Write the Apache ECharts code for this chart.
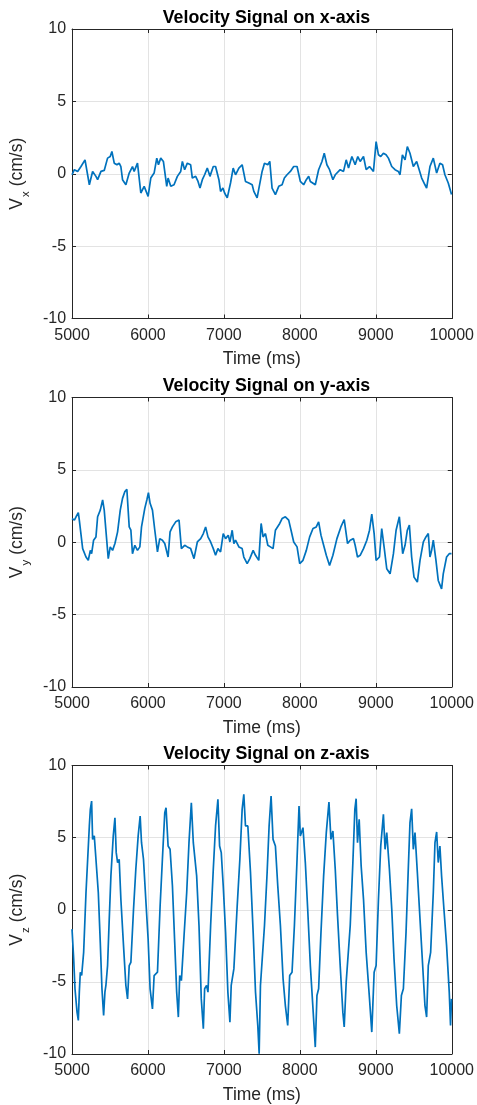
<!DOCTYPE html>
<html>
<head>
<meta charset="utf-8">
<script src="https://cdn.jsdelivr.net/npm/echarts@6/dist/echarts.min.js"></script>
<style>
html,body{margin:0;padding:0;background:#fff;}
#chart{width:477px;height:1105px;}
</style>
</head>
<body>
<div id="chart"></div>
<script>
// ---- data ----
var titles = ['Velocity Signal on x-axis', 'Velocity Signal on y-axis', 'Velocity Signal on z-axis'];
var axisSubs = ['x', 'y', 'z'];
var xLabel = 'Time (ms)';
var xTicks = [5000, 6000, 7000, 8000, 9000, 10000];
var yTicks = [-10, -5, 0, 5, 10];

var tX = [5000,5031,5074,5118,5140,5171,5197,5228,5271,5315,5337,5381,5424,5446,5468,5503,5525,5556,5591,5621,5643,5665,5709,5753,5796,5818,5862,5884,5906,5950,6002,6037,6081,6116,6138,6168,6203,6247,6265,6300,6343,6387,6431,6453,6483,6518,6562,6584,6628,6659,6685,6716,6746,6781,6816,6860,6890,6934,6956,6987,7009,7044,7087,7122,7153,7197,7240,7284,7328,7372,7394,7437,7459,7503,7534,7578,7604,7634,7678,7722,7766,7796,7831,7875,7919,7963,8006,8050,8085,8116,8138,8203,8247,8291,8321,8356,8391,8435,8466,8531,8575,8610,8641,8685,8728,8763,8794,8838,8873,8917,8969,9004,9035,9065,9100,9135,9166,9210,9253,9297,9319,9350,9385,9415,9450,9494,9538,9560,9604,9647,9669,9713,9757,9801,9844,9879,9910,9954,9997];
var vX = [-0.07,0.28,0.16,0.50,0.62,0.96,0.85,-0.76,0.16,-0.18,-0.41,0.16,0.23,0.28,1.08,1.19,1.54,0.73,0.62,0.73,0.50,-0.41,-0.76,0.05,0.50,0.16,0.73,0.62,-1.33,-0.87,-1.56,-0.30,0.05,1.08,0.62,1.08,0.85,-0.87,-0.30,-0.87,-0.76,-0.18,0.16,0.85,0.28,0.73,0.62,-0.30,-0.18,-0.53,-0.99,-0.41,-0.07,0.39,-0.18,0.50,0.50,-0.41,-1.22,-0.99,-1.33,-1.67,-0.64,0.39,-0.07,0.39,0.62,-0.53,-0.64,-0.76,-1.22,-1.67,-1.56,0.16,0.73,0.62,0.85,-0.99,-1.44,-0.87,-0.76,-0.30,-0.07,0.16,0.50,0.50,-0.53,-0.76,-0.41,-0.18,-0.53,-0.76,0.28,0.85,1.42,0.62,0.28,-0.41,-0.07,0.28,0.16,0.96,0.39,1.19,0.62,1.19,0.85,1.19,0.28,0.50,0.16,2.22,1.31,1.19,1.42,1.31,1.08,0.50,0.28,0.16,-0.07,1.31,0.96,1.88,1.42,0.50,0.85,0.73,-0.30,-0.76,-0.99,0.50,1.08,0.05,0.73,0.62,-0.07,-0.64,-1.44];

var tY = [5000,5031,5053,5083,5096,5118,5140,5162,5184,5214,5241,5258,5284,5315,5337,5372,5403,5424,5446,5477,5503,5534,5565,5600,5635,5665,5696,5722,5753,5775,5796,5827,5862,5893,5915,5941,5958,5985,6006,6028,6059,6090,6125,6155,6190,6221,6265,6291,6322,6365,6409,6440,6483,6518,6562,6606,6650,6694,6729,6759,6790,6825,6860,6890,6921,6956,6991,7022,7057,7079,7109,7131,7153,7197,7240,7262,7306,7341,7385,7416,7459,7490,7516,7547,7578,7612,7647,7678,7700,7735,7766,7809,7853,7884,7919,7963,7998,8041,8085,8129,8173,8216,8247,8278,8313,8348,8391,8435,8488,8540,8584,8628,8663,8706,8728,8759,8794,8838,8882,8917,8947,8978,9004,9048,9078,9109,9144,9188,9232,9267,9310,9354,9385,9415,9442,9472,9503,9547,9582,9626,9660,9691,9713,9735,9757,9792,9822,9866,9888,9932,9967,9997];
var vY = [1.64,1.53,1.76,2.04,1.53,1.41,-0.44,-0.32,-1.02,-1.25,-0.56,-0.79,0.14,0.37,1.76,2.22,2.92,2.22,0.83,-1.13,-0.32,-0.56,-0.09,0.72,2.22,3.03,3.50,3.66,1.06,0.83,-0.79,-0.21,-0.56,-0.32,1.06,1.06,2.34,2.92,3.43,2.69,2.22,0.83,-0.67,0.25,0.14,-0.09,-1.02,0.72,1.06,1.41,1.53,-0.44,-0.21,-0.32,-0.44,-1.13,0.02,0.25,0.60,1.06,0.37,0.02,-0.44,-0.90,-0.44,-0.67,0.60,0.25,0.49,0.02,0.83,-0.09,0.14,-0.32,-0.44,-1.02,-1.48,-1.13,-0.56,-0.90,-1.25,1.30,0.37,0.60,-0.21,-0.32,-0.44,0.83,0.72,1.30,1.64,1.76,1.53,0.83,0.02,-0.32,-1.48,-1.25,-0.56,0.37,0.95,1.06,1.41,0.49,-0.21,-0.90,-1.60,-0.90,0.25,1.06,1.57,-0.09,0.14,0.25,-0.21,-1.02,-0.90,-0.44,0.14,0.83,1.94,0.60,-1.25,-1.02,0.95,-0.32,-1.83,-2.18,-0.79,0.83,1.76,-0.79,-0.21,0.83,1.18,-1.02,-2.41,-2.75,-1.25,0.02,0.37,0.60,-1.02,-0.56,0.14,-1.25,-2.64,-3.22,-2.18,-1.02,-0.79,-0.79];

var tZ = [5000,5022,5039,5066,5083,5096,5109,5127,5153,5184,5206,5228,5241,5258,5271,5293,5315,5346,5372,5394,5416,5433,5446,5468,5490,5512,5543,5565,5582,5600,5621,5643,5678,5709,5731,5753,5775,5810,5840,5871,5897,5915,5941,5971,6002,6028,6059,6081,6125,6160,6190,6221,6238,6265,6291,6322,6352,6378,6400,6418,6440,6475,6510,6540,6571,6597,6615,6641,6672,6702,6729,6746,6772,6790,6825,6860,6890,6921,6943,6965,6991,7022,7052,7079,7096,7131,7175,7210,7240,7262,7284,7315,7350,7385,7416,7446,7464,7481,7503,7534,7569,7595,7621,7647,7678,7709,7744,7779,7809,7840,7866,7897,7928,7963,7989,8006,8041,8072,8103,8138,8173,8203,8225,8247,8278,8313,8348,8383,8409,8435,8466,8496,8531,8566,8584,8610,8628,8663,8698,8724,8741,8759,8781,8807,8838,8873,8917,8947,8978,9004,9035,9065,9100,9122,9144,9179,9210,9240,9275,9310,9337,9363,9398,9429,9450,9472,9494,9516,9547,9582,9617,9647,9669,9691,9722,9757,9779,9801,9822,9844,9866,9897,9932,9967,9984,9997];
var vZ = [-1.34,-3.41,-5.48,-7.10,-7.67,-5.71,-4.33,-4.56,-2.95,1.20,3.50,5.81,6.96,7.53,4.88,5.12,3.50,1.20,-2.26,-5.48,-7.33,-5.71,-5.25,-3.87,-0.65,2.35,5.12,6.38,3.96,3.27,3.50,0.74,-2.49,-5.25,-6.18,-3.87,-3.64,0.05,2.81,5.12,6.50,4.65,3.50,0.74,-2.03,-5.48,-6.87,-4.56,-4.33,0.28,3.50,6.73,7.07,4.42,4.19,1.66,-2.26,-5.71,-7.44,-4.56,-4.91,-1.80,1.20,4.65,7.42,4.65,4.77,2.35,-1.11,-6.18,-8.25,-5.48,-5.25,-5.71,-1.11,2.81,5.81,7.65,4.42,3.96,1.66,-1.57,-5.71,-7.79,-5.25,-4.10,0.28,3.50,6.96,8.00,5.81,5.81,2.58,-1.57,-5.71,-8.02,-9.98,-5.25,-5.25,-1.11,2.58,5.81,7.88,4.88,4.42,1.66,-1.11,-4.79,-6.64,-8.02,-4.56,-4.33,-1.11,3.50,7.19,5.12,5.69,3.27,0.05,-3.87,-6.87,-9.52,-5.94,-5.48,-1.57,2.35,5.35,7.47,4.88,5.46,2.81,-0.41,-3.87,-7.10,-8.13,-5.02,-5.02,-1.11,3.27,6.96,7.70,4.65,6.27,3.04,0.74,-2.95,-6.18,-8.48,-4.33,-3.87,0.74,4.42,6.61,4.19,5.35,2.81,0.05,-3.41,-6.64,-8.59,-5.94,-5.48,-1.57,3.04,6.04,7.00,4.19,5.35,2.58,-0.65,-3.87,-6.64,-7.44,-3.87,-2.95,1.20,4.65,5.39,3.27,4.42,2.35,0.05,-2.49,-5.71,-8.02,-6.18];

// ---- chart ----
var FONT = "'Liberation Sans', Arial, Helvetica, sans-serif";
var TXT = '#262626';
var LINE = '#0072BD';
var gridTops = [29, 397.5, 765.5];
var GL = 71, GW = 381, GH = 289.5;

function pairs(t, v) { return t.map(function (x, i) { return [x, v[i]]; }); }
var seriesData = [pairs(tX, vX), pairs(tY, vY), pairs(tZ, vZ)];
function plain(v) { return String(v); }

var grid = [], xAxis = [], yAxis = [], series = [], title = [];
for (var k = 0; k < 3; k++) {
  grid.push({ left: GL, top: gridTops[k], width: GW, height: GH, containLabel: false });
  title.push({
    text: titles[k], left: GL + GW / 2, top: gridTops[k] - 25, textAlign: 'center',
    textStyle: { fontFamily: FONT, fontSize: 17.8, fontWeight: 'bold', color: '#000' }
  });
  var common = {
    type: 'value', gridIndex: k,
    axisLine: { show: true, onZero: false, lineStyle: { color: TXT, width: 1 } },
    axisTick: { show: true, inside: true, length: 4, lineStyle: { color: TXT } }
  };
  xAxis.push(Object.assign({}, common, {
    position: 'bottom', min: xTicks[0], max: xTicks[xTicks.length - 1], interval: 1000,
    name: xLabel, nameLocation: 'middle', nameGap: 32,
    nameTextStyle: { fontFamily: FONT, fontSize: 17.5, color: TXT },
    axisLabel: { fontFamily: FONT, fontSize: 16, color: TXT, margin: 9, formatter: plain },
    splitLine: { show: true, lineStyle: { color: '#e3e3e3', width: 1 } }
  }));
  xAxis.push(Object.assign({}, common, {
    position: 'top', min: xTicks[0], max: xTicks[xTicks.length - 1], interval: 1000,
    axisLabel: { show: false }, splitLine: { show: false }
  }));
  yAxis.push(Object.assign({}, common, {
    position: 'left', min: yTicks[0], max: yTicks[yTicks.length - 1], interval: 5,
    name: '{v|V}{g| }{s|' + axisSubs[k] + '}{v| (cm/s)}', nameLocation: 'middle', nameGap: 33, nameRotate: 90,
    nameTextStyle: {
      fontFamily: FONT, color: TXT,
      rich: {
        v: { fontFamily: FONT, fontSize: 17.5, color: TXT, lineHeight: 30 },
        g: { fontFamily: FONT, fontSize: 4, lineHeight: 30 },
        s: { fontFamily: FONT, fontSize: 11.5, color: TXT, lineHeight: 8, verticalAlign: 'bottom' }
      }
    },
    axisLabel: { fontFamily: FONT, fontSize: 16, color: TXT, margin: 6, formatter: plain },
    splitLine: { show: true, lineStyle: { color: '#e3e3e3', width: 1 } }
  }));
  yAxis.push(Object.assign({}, common, {
    position: 'right', min: yTicks[0], max: yTicks[yTicks.length - 1], interval: 5,
    axisLabel: { show: false }, splitLine: { show: false }
  }));
  series.push({
    type: 'line', xAxisIndex: 2 * k, yAxisIndex: 2 * k, data: seriesData[k],
    showSymbol: false, symbol: 'none', smooth: false, clip: true,
    lineStyle: { color: LINE, width: 1.7 }, animation: false
  });
}

var chart = echarts.init(document.getElementById('chart'), null, { renderer: 'canvas' });
chart.setOption({
  backgroundColor: '#ffffff',
  animation: false,
  title: title, grid: grid, xAxis: xAxis, yAxis: yAxis, series: series
});
</script>
</body>
</html>
